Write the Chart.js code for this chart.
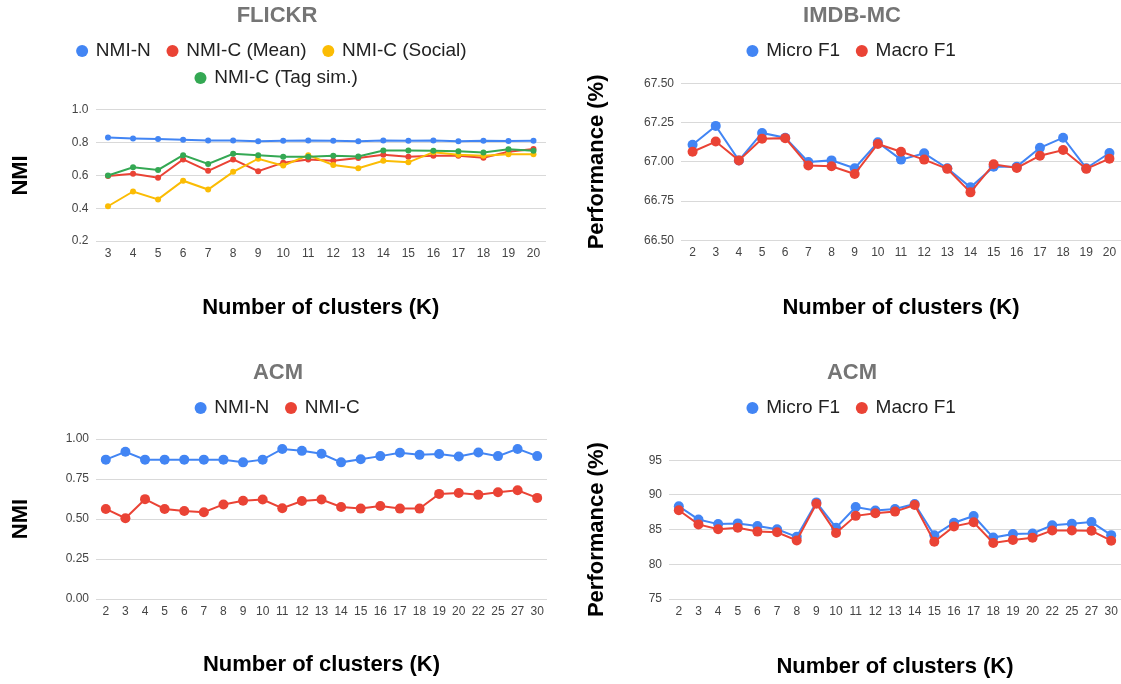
<!DOCTYPE html>
<html>
<head>
<meta charset="utf-8">
<script src="https://cdn.jsdelivr.net/npm/chart.js@4/dist/chart.umd.min.js"></script>
<style>
  html, body { margin: 0; padding: 0; background: #fff; overflow: hidden; }
  body { position: relative; width: 1121px; height: 684px; }
  .panel { position: absolute; height: 342px; }
  .panel canvas { display: block; }
</style>
</head>
<body>
<div class="panel" style="left:5px;top:0;width:544px"><canvas id="flickr"></canvas></div>
<div class="panel" style="left:578px;top:0;width:548px"><canvas id="imdb"></canvas></div>
<div class="panel" style="left:4px;top:342px;width:548px"><canvas id="acmNmi"></canvas></div>
<div class="panel" style="left:578px;top:342px;width:548px"><canvas id="acmF1"></canvas></div>
<script>
// FLICKR, NMI by number of clusters
const flickrK = ['3','4','5','6','7','8','9','10','11','12','13','14','15','16','17','18','19','20'];
const flickrNmiN = [0.832, 0.826, 0.822, 0.818, 0.814, 0.814, 0.808, 0.812, 0.814, 0.812, 0.808, 0.814, 0.812, 0.814, 0.808, 0.812, 0.810, 0.812];
const flickrNmiMean = [0.596, 0.610, 0.586, 0.698, 0.628, 0.698, 0.626, 0.678, 0.698, 0.690, 0.706, 0.726, 0.714, 0.720, 0.720, 0.708, 0.744, 0.762];
const flickrNmiSocial = [0.412, 0.502, 0.454, 0.568, 0.514, 0.622, 0.702, 0.660, 0.724, 0.664, 0.644, 0.690, 0.680, 0.742, 0.726, 0.720, 0.730, 0.730];
const flickrNmiTag = [0.600, 0.650, 0.634, 0.724, 0.670, 0.732, 0.724, 0.714, 0.714, 0.720, 0.716, 0.752, 0.752, 0.750, 0.748, 0.740, 0.760, 0.750];

// IMDB-MC, micro / macro F1
const imdbK = ['2','3','4','5','6','7','8','9','10','11','12','13','14','15','16','17','18','19','20'];
const imdbMicro = [67.110, 67.230, 67.010, 67.185, 67.155, 67.000, 67.010, 66.960, 67.125, 67.015, 67.055, 66.960, 66.838, 66.970, 66.970, 67.090, 67.155, 66.960, 67.057];
const imdbMacro = [67.065, 67.130, 67.010, 67.148, 67.152, 66.977, 66.973, 66.923, 67.115, 67.065, 67.015, 66.956, 66.806, 66.985, 66.962, 67.040, 67.076, 66.956, 67.021];

// ACM, shared cluster counts
const acmK = ['2','3','4','5','6','7','8','9','10','11','12','13','14','15','16','17','18','19','20','22','25','27','30'];
const acmNmiN = [0.871, 0.920, 0.871, 0.871, 0.871, 0.871, 0.871, 0.854, 0.871, 0.938, 0.926, 0.908, 0.854, 0.873, 0.893, 0.914, 0.901, 0.906, 0.891, 0.916, 0.893, 0.938, 0.893];
const acmNmiC = [0.563, 0.505, 0.624, 0.563, 0.550, 0.542, 0.591, 0.614, 0.622, 0.567, 0.612, 0.622, 0.575, 0.565, 0.581, 0.565, 0.565, 0.657, 0.663, 0.651, 0.667, 0.680, 0.632];
const acmMicro = [88.37, 86.47, 85.80, 85.90, 85.52, 85.05, 83.96, 88.93, 85.28, 88.27, 87.75, 87.99, 88.70, 84.19, 86.00, 86.97, 83.86, 84.38, 84.45, 85.64, 85.85, 86.09, 84.21];
const acmMacro = [87.80, 85.76, 85.05, 85.28, 84.72, 84.62, 83.44, 88.74, 84.53, 86.99, 87.37, 87.60, 88.55, 83.25, 85.47, 86.07, 83.07, 83.50, 83.83, 84.89, 84.89, 84.84, 83.41];

const BLUE = '#4285f4', RED = '#ea4335', YELLOW = '#fbbc04', GREEN = '#34a853';

Chart.defaults.font.family = "'Liberation Sans', Arial, sans-serif";

function lineChart(id, cfg) {
    const n = cfg.series.length;
    return new Chart(document.getElementById(id), {
        type: 'line',
        data: {
            labels: cfg.labels,
            datasets: cfg.series.map((s, i) => ({
                label: s.label,
                data: s.data,
                borderColor: s.color,
                backgroundColor: s.color,
                borderWidth: 2,
                pointRadius: cfg.pointRadius,
                pointHoverRadius: cfg.pointRadius,
                pointBorderWidth: 0,
                tension: 0,
                // later series on top
                order: n - i
            }))
        },
        options: {
            responsive: true,
            maintainAspectRatio: false,
            animation: false,
            layout: { padding: 0 },
            plugins: {
                title: {
                    display: true,
                    text: cfg.title,
                    color: '#757575',
                    font: { size: 22, weight: 'bold' },
                    padding: { top: cfg.titleTop, bottom: cfg.titleBottom }
                },
                // empty spacer between legend and plot
                subtitle: {
                    display: true,
                    text: '',
                    weight: 500,
                    font: { size: 1, lineHeight: 1 },
                    padding: { top: 0, bottom: cfg.legendGap }
                },
                legend: {
                    labels: {
                        usePointStyle: true,
                        pointStyle: 'circle',
                        boxWidth: 8.5,
                        boxHeight: 8.5,
                        padding: 8,
                        color: '#222',
                        font: { size: 19 },
                        // keep dataset order and leave a wider gap after each entry
                        generateLabels(chart) {
                            const items = Chart.defaults.plugins.legend.labels.generateLabels(chart);
                            items.sort((a, b) => a.datasetIndex - b.datasetIndex);
                            items.forEach((it, i) => {
                                it.lineWidth = 0;
                                if (i < items.length - 1) it.text += '\u2002';
                            });
                            return items;
                        }
                    }
                },
                tooltip: { enabled: false }
            },
            scales: {
                x: {
                    offset: true,
                    grid: { display: false, drawTicks: false },
                    border: { display: false },
                    ticks: { color: '#444', font: { size: 12 }, padding: cfg.xTickPad, autoSkip: false, maxRotation: 0 },
                    title: {
                        display: true,
                        text: 'Number of clusters (K)',
                        color: '#000',
                        font: { size: 22, weight: 'bold' },
                        padding: { top: 0, bottom: cfg.xTitleBottom }
                    },
                    afterFit: s => { s.height = cfg.xHeight; }
                },
                y: {
                    min: cfg.yMin,
                    max: cfg.yMax,
                    grid: { color: '#d9d9d9', drawTicks: false },
                    border: { display: false },
                    ticks: {
                        stepSize: cfg.yStep,
                        color: '#444',
                        font: { size: 12 },
                        padding: 7,
                        callback: v => v.toFixed(cfg.yDigits)
                    },
                    title: {
                        display: true,
                        text: cfg.yTitle,
                        color: '#000',
                        font: { size: 22, weight: 'bold' },
                        padding: { top: cfg.yTitleLeft, bottom: 0 }
                    },
                    afterFit: s => { s.width = cfg.yWidth; }
                }
            }
        }
    });
}

lineChart('flickr', {
    title: 'FLICKR',
    labels: flickrK,
    series: [
        { label: 'NMI-N', data: flickrNmiN, color: BLUE },
        { label: 'NMI-C (Mean)', data: flickrNmiMean, color: RED },
        { label: 'NMI-C (Social)', data: flickrNmiSocial, color: YELLOW },
        { label: 'NMI-C (Tag sim.)', data: flickrNmiTag, color: GREEN }
    ],
    pointRadius: 3,
    yMin: 0.2, yMax: 1.0, yStep: 0.2, yDigits: 1, yTitle: 'NMI',
    titleTop: 3, titleBottom: 4, legendGap: 11.5,
    xHeight: 101, xTickPad: 5, xTitleBottom: 20.8,
    yWidth: 90.5, yTitleLeft: 2.8
});

lineChart('imdb', {
    title: 'IMDB-MC',
    labels: imdbK,
    series: [
        { label: 'Micro F1', data: imdbMicro, color: BLUE },
        { label: 'Macro F1', data: imdbMacro, color: RED }
    ],
    pointRadius: 5,
    yMin: 66.5, yMax: 67.5, yStep: 0.25, yDigits: 2, yTitle: 'Performance (%)',
    titleTop: 3, titleBottom: 4, legendGap: 12.2,
    xHeight: 101.7, xTickPad: 5, xTitleBottom: 20.8,
    yWidth: 103, yTitleLeft: 5.8
});

lineChart('acmNmi', {
    title: 'ACM',
    labels: acmK,
    series: [
        { label: 'NMI-N', data: acmNmiN, color: BLUE },
        { label: 'NMI-C', data: acmNmiC, color: RED }
    ],
    pointRadius: 5,
    yMin: 0, yMax: 1, yStep: 0.25, yDigits: 2, yTitle: 'NMI',
    titleTop: 17.8, titleBottom: 4.3, legendGap: 10.5,
    xHeight: 85, xTickPad: 5.5, xTitleBottom: 5.8,
    yWidth: 92, yTitleLeft: 3.8
});

lineChart('acmF1', {
    title: 'ACM',
    labels: acmK,
    series: [
        { label: 'Micro F1', data: acmMicro, color: BLUE },
        { label: 'Macro F1', data: acmMacro, color: RED }
    ],
    pointRadius: 5,
    yMin: 75, yMax: 95, yStep: 5, yDigits: 0, yTitle: 'Performance (%)',
    titleTop: 17.8, titleBottom: 4.3, legendGap: 31.8,
    xHeight: 85, xTickPad: 5.5, xTitleBottom: 3.8,
    yWidth: 91, yTitleLeft: 5.8
});
</script>
</body>
</html>
